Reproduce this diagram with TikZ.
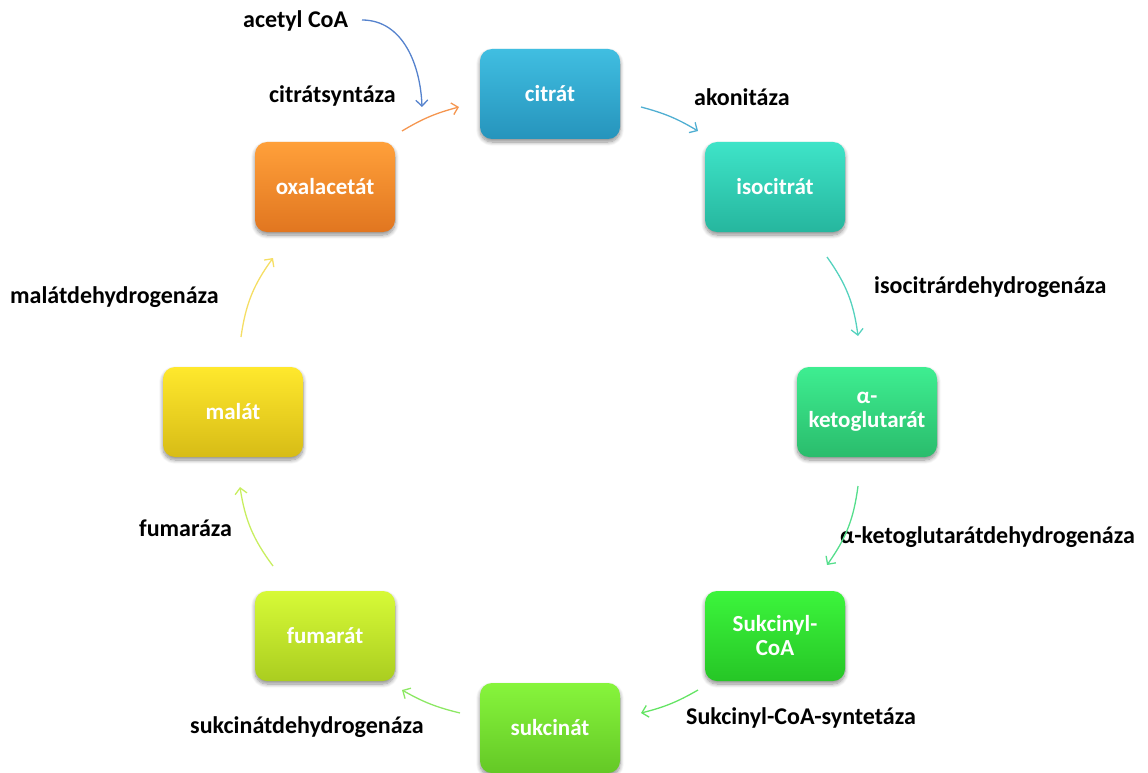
\documentclass[tikz,border=0pt]{standalone}
\usepackage{fontspec}
\setmainfont{Carlito}
\usetikzlibrary{arrows.meta,shadows.blur}
\definecolor{cA}{RGB}{64,190,225}\definecolor{cAb}{RGB}{38,148,188}
\definecolor{cB}{RGB}{62,228,200}\definecolor{cBb}{RGB}{38,182,158}
\definecolor{cC}{RGB}{62,238,145}\definecolor{cCb}{RGB}{42,188,108}
\definecolor{cD}{RGB}{60,245,60}\definecolor{cDb}{RGB}{38,198,38}
\definecolor{cE}{RGB}{135,245,60}\definecolor{cEb}{RGB}{100,200,38}
\definecolor{cF}{RGB}{215,250,55}\definecolor{cFb}{RGB}{170,205,32}
\definecolor{cG}{RGB}{255,232,45}\definecolor{cGb}{RGB}{215,188,22}
\definecolor{cH}{RGB}{255,160,58}\definecolor{cHb}{RGB}{225,118,32}
\definecolor{aBlue}{RGB}{85,130,205}
\definecolor{aOrange}{RGB}{245,150,80}
\definecolor{aCit}{RGB}{80,175,210}
\definecolor{aIso}{RGB}{85,210,190}
\definecolor{aKg}{RGB}{85,222,140}
\definecolor{aSc}{RGB}{100,228,100}
\definecolor{aSu}{RGB}{140,232,100}
\definecolor{aFu}{RGB}{200,238,95}
\definecolor{aMa}{RGB}{245,222,100}
\tikzset{
  x=1pt,y=1pt,
  box/.style={rounded corners=12pt, minimum width=140pt, minimum height=90pt,
    text=white, font=\fontsize{23}{24}\selectfont\bfseries, align=center, inner sep=0pt,
    blur shadow={shadow xshift=0pt, shadow yshift=-3pt, shadow blur radius=4pt, shadow opacity=45, shadow blur steps=8}},
  lbl/.style={anchor=west, font=\fontsize{24}{26}\selectfont\bfseries, text=black, inner sep=0pt},
  conn/.style={line width=1.3pt, -{Straight Barb[length=6pt,width=12pt,line width=1.3pt]}},
}
\begin{document}
\begin{tikzpicture}
\useasboundingbox (0,0) rectangle (1148,-773);
% boxes
\node[box, top color=cA, bottom color=cAb] (cit) at (550,-94) {citrát};
\node[box, top color=cB, bottom color=cBb] (iso) at (775,-187) {isocitrát};
\node[box, top color=cC, bottom color=cCb] (akg) at (867,-412) {α-\\ketoglutarát};
\node[box, top color=cD, bottom color=cDb] (sco) at (775,-636) {Sukcinyl-\\CoA};
\node[box, top color=cE, bottom color=cEb] (suk) at (550,-728) {sukcinát};
\node[box, top color=cF, bottom color=cFb] (fum) at (325,-636) {fumarát};
\node[box, top color=cG, bottom color=cGb] (mal) at (233,-412) {malát};
\node[box, top color=cH, bottom color=cHb] (oxa) at (325,-187) {oxalacetát};
% labels
\node[lbl] (lacc) at (243,-21) {acetyl CoA};
\node[lbl] (lcs) at (269,-96) {citrátsyntáza};
\node[lbl] (lak) at (694,-97) {akonitáza};
\node[lbl] (lidh) at (874,-287) {isocitrárdehydrogenáza};
\node[lbl] (lkg) at (840,-537) {α-ketoglutarátdehydrogenáza};
\node[lbl] (lscs) at (686,-718) {Sukcinyl-CoA-syntetáza};
\node[lbl] (lsdh) at (190,-727) {sukcinátdehydrogenáza};
\node[lbl] (lfum) at (139,-528) {fumaráza};
\node[lbl] (lmdh) at (10,-297) {malátdehydrogenáza};
% arrow ends
\coordinate (a1s) at (362,-20);  \coordinate (a1e) at (422,-107);
\coordinate (a2s) at (402,-131); \coordinate (a2e) at (459,-107);
\coordinate (a3s) at (641,-107); \coordinate (a3e) at (698,-131);
\coordinate (a4s) at (827,-257); \coordinate (a4e) at (858,-336);
\coordinate (a5s) at (858,-486); \coordinate (a5e) at (827,-565);
\coordinate (a6s) at (698,-690); \coordinate (a6e) at (641,-713);
\coordinate (a7s) at (460,-713); \coordinate (a7e) at (402,-690);
\coordinate (a8s) at (273,-566); \coordinate (a8e) at (240,-487);
\coordinate (a9s) at (241,-337); \coordinate (a9e) at (273,-258);
% arrows
\draw[conn, aBlue] (a1s) to[out=0,in=92] (a1e);
\draw[conn, aOrange] (a2s) to[bend left=8] (a2e);
\draw[conn, aCit] (a3s) to[bend left=8] (a3e);
\draw[conn, aIso] (a4s) to[bend left=14] (a4e);
\draw[conn, aKg] (a5s) to[bend left=14] (a5e);
\draw[conn, aSc] (a6s) to[bend left=8] (a6e);
\draw[conn, aSu] (a7s) to[bend left=8] (a7e);
\draw[conn, aFu] (a8s) to[bend left=14] (a8e);
\draw[conn, aMa] (a9s) to[bend left=14] (a9e);
\end{tikzpicture}
\end{document}
